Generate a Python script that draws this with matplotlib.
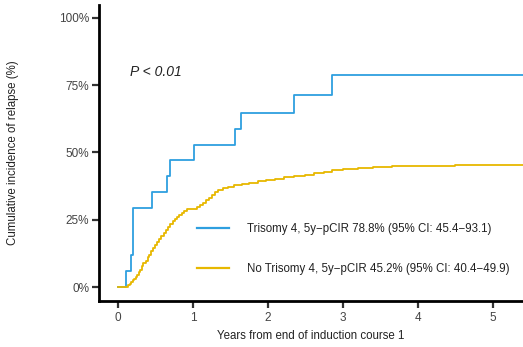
import matplotlib
matplotlib.use("Agg")
import matplotlib.pyplot as plt

# ---- data ----
tri_time = [0.0, 0.107, 0.17, 0.196, 0.45, 0.66, 0.69, 1.01, 1.56, 1.64, 2.35, 2.85, 5.45]
tri_cir = [0.0, 5.9, 11.8, 29.4, 35.3, 41.2, 47.1, 52.9, 58.8, 64.7, 71.5, 78.8, 78.8]

no_time = [0.00, 0.14, 0.16, 0.18, 0.20, 0.22, 0.24, 0.26, 0.28, 0.30, 0.32, 0.34, 0.37,
           0.40, 0.42, 0.44, 0.47, 0.49, 0.52, 0.55, 0.58, 0.61, 0.64, 0.67, 0.70, 0.73,
           0.76, 0.79, 0.82, 0.85, 0.88, 0.92, 1.05, 1.10, 1.14, 1.18, 1.22, 1.26, 1.30,
           1.34, 1.40, 1.47, 1.55, 1.65, 1.75, 1.87, 1.98, 2.10, 2.22, 2.35, 2.50, 2.62,
           2.75, 2.85, 3.00, 3.20, 3.40, 3.65, 4.00, 4.50, 5.45]
no_cir = [0.0, 0.6, 1.2, 1.9, 2.5, 3.1, 3.7, 4.6, 5.5, 6.5, 7.7, 8.9, 9.8,
          11.0, 12.0, 13.2, 14.5, 15.6, 16.8, 18.0, 19.0, 20.2, 21.3, 22.4, 23.4, 24.4,
          25.3, 26.1, 26.9, 27.6, 28.3, 28.9, 29.6, 30.6, 31.4, 32.3, 33.2, 34.2, 35.2,
          36.1, 36.8, 37.3, 37.8, 38.3, 38.8, 39.3, 39.9, 40.3, 40.8, 41.3, 41.8, 42.3,
          42.8, 43.3, 43.7, 44.1, 44.5, 44.8, 45.0, 45.2, 45.2]

labels = ["Trisomy 4, 5y\u2212pCIR 78.8% (95% CI: 45.4\u221293.1)",
          "No Trisomy 4, 5y\u2212pCIR 45.2% (95% CI: 40.4\u221249.9)"]
colors = ["#2E9FDF", "#E7B800"]
x_ticks = [0, 1, 2, 3, 4, 5]
y_ticks = [0, 25, 50, 75, 100]
y_ticklabels = ["0%", "25%", "50%", "75%", "100%"]

plt.rcParams['font.family'] = ['Liberation Sans', 'DejaVu Sans']

fig = plt.figure(figsize=(5.23, 3.47), dpi=100)
ax = fig.add_axes([99/523, 46/347, 1 - 99/523, (301-5)/347])

l1, = ax.step(tri_time, tri_cir, where='post', color=colors[0], lw=1.3, zorder=2)
l2, = ax.step(no_time, no_cir, where='post', color=colors[1], lw=1.3, zorder=3)

ax.set_xlim(-0.253, 5.4)
ax.set_ylim(-5.2, 104.8)
ax.set_xticks(x_ticks)
ax.set_yticks(y_ticks)
ax.set_yticklabels(y_ticklabels)

for s in ["top", "right"]:
    ax.spines[s].set_visible(False)
for s in ["left", "bottom"]:
    ax.spines[s].set_linewidth(2.0)
    ax.spines[s].set_color("black")

ax.tick_params(axis='both', length=5, width=1.6, color="#333333",
               labelcolor="#444444", labelsize=8.5)
ax.tick_params(axis='y', pad=2)
ax.tick_params(axis='x', pad=3)

ax.set_xlabel("Years from end of induction course 1", fontsize=8.3, color="#222222", labelpad=4)
ax.set_ylabel("Cumulative incidence of relapse (%)", fontsize=8.3, color="#222222", labelpad=29)

ax.text(0.16, 80, "P < 0.01", fontsize=10, style='italic', color="#222222",
        ha='left', va='center')

leg = ax.legend([l1, l2], labels, loc='upper left', bbox_to_anchor=(0.23, 0.265),
                frameon=False, fontsize=8.3, handlelength=2.8, handletextpad=1.55,
                labelspacing=2.5, borderpad=0, borderaxespad=0)
for t in leg.get_texts():
    t.set_color("#222222")
for h in leg.legend_handles:
    h.set_linewidth(1.6)

fig.savefig("out.png", dpi=100)
